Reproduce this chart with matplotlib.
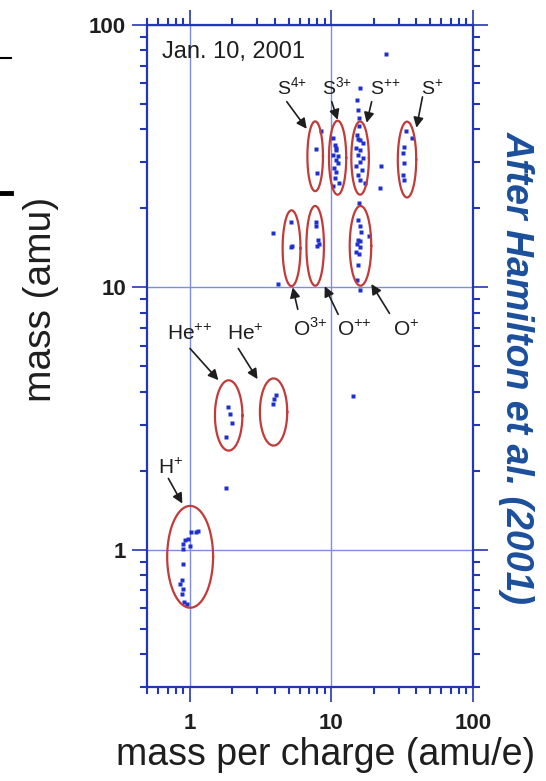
import numpy as np
import matplotlib
matplotlib.use("Agg")
import matplotlib.pyplot as plt
from matplotlib.lines import Line2D

plt.rcParams['font.family'] = ['Liberation Sans', 'DejaVu Sans']
plt.rcParams['mathtext.fontset'] = 'custom'
plt.rcParams['mathtext.rm'] = 'Liberation Sans'

# measured ions, mass per charge (amu/e) vs mass (amu)
h_x = [1.15, 1.11, 1.02, 0.98, 0.93, 0.905, 1.01, 0.895, 0.905, 0.88, 0.857, 0.905, 0.89, 0.92, 0.956]
h_y = [1.18, 1.17, 1.17, 1.10, 1.085, 1.054, 1.038, 1.01, 0.885, 0.764, 0.743, 0.711, 0.68, 0.633, 0.623]
he_x = [1.86, 1.93, 2.01, 1.81, 4.07, 3.96, 3.89]
he_y = [3.49, 3.29, 3.04, 2.68, 3.88, 3.75, 3.59]
o_x = [5.24, 5.30, 5.19, 7.78, 7.87, 8.07, 8.20, 7.94,
       15.7, 15.4, 15.9, 16.3, 18.5, 15.4, 15.2, 15.9, 15.0, 15.4, 15.3, 15.9, 16.1, 15.6]
o_y = [17.7, 14.4, 14.2, 17.8, 17.1, 15.2, 14.6, 14.4,
       20.9, 18.1, 17.1, 16.2, 15.7, 15.2, 14.6, 14.2, 13.7, 12.2, 10.7, 9.8, 15.0, 13.4]
s_x = [7.87, 8.00, 8.43,
       10.25, 10.6, 10.9, 10.25, 10.75, 11.1, 10.4, 10.9, 10.6, 11.3, 10.25, 10.75, 11.1,
       15.9, 15.1, 15.4, 15.6, 15.6, 15.1, 15.4, 15.9, 16.7, 14.9, 16.1, 15.4, 16.9, 15.9,
       14.9, 16.4, 15.4, 16.1, 17.2,
       34.0, 36.9, 32.9, 31.9, 32.9, 31.9, 32.9]
s_y = [33.8, 27.4, 39.3,
       37.2, 35.0, 33.5, 32.0, 30.7, 29.9, 28.6, 27.6, 26.2, 25.1, 24.4, 34.1, 31.8,
       57.6, 51.9, 47.5, 44.3, 41.3, 38.2, 36.8, 36.5, 35.6, 34.1, 33.5, 32.0, 31.2, 30.1,
       29.1, 28.1, 26.9, 25.7, 24.9,
       39.5, 37.2, 34.4, 32.6, 29.9, 26.7, 25.7]
other_x = [1.81, 14.2, 3.89, 4.22, 24.5, 22.3, 22.0]
other_y = [1.72, 3.86, 16.1, 10.3, 77.6, 29.1, 24.0]

# ion groups: label, ellipse centre, half sizes (decades), label spot, arrow tail, arrow head
ions = ['H', 'He', 'He', 'O', 'O', 'O', 'S', 'S', 'S', 'S']
charges = ['{+}', '{+}{+}', '{+}', '{3}{+}', '{+}{+}', '{+}', '{4}{+}', '{3}{+}', '{+}{+}', '{+}']
ell_cx = [1.01, 1.89, 3.92, 5.25, 7.71, 16.1, 7.71, 11.1, 16.0, 34.3]
ell_cy = [0.94, 3.25, 3.35, 14.1, 14.4, 14.4, 31.6, 31.2, 31.1, 30.7]
ell_ax = [0.162, 0.097, 0.0965, 0.063, 0.062, 0.076, 0.055, 0.061, 0.062, 0.065]
ell_ay = [0.194, 0.134, 0.128, 0.1445, 0.152, 0.152, 0.133, 0.141, 0.1395, 0.1445]
lab_x = [0.603, 0.691, 1.85, 5.38, 11.06, 27.2, 4.13, 8.57, 18.7, 43.4]
lab_y = [1.945, 6.29, 6.29, 6.51, 6.51, 6.51, 54.2, 54.2, 54.2, 54.2]
tail_x = [0.709, 1.008, 2.21, 5.81, 11.2, 25.8, 4.86, 10.1, 19.3, 44.1]
tail_y = [1.87, 5.85, 5.85, 8.25, 7.89, 7.96, 51.0, 51.0, 51.0, 53.2]
head_x = [0.89, 1.60, 3.02, 5.35, 9.0, 19.2, 6.72, 11.1, 17.8, 40.0]
head_y = [1.50, 4.43, 4.47, 10.0, 10.1, 10.3, 40.2, 43.5, 42.4, 40.6]

frame = '#2436b8'
dots = '#1f2fd0'
red = '#c23a3a'
ink = '#1e1e1e'

fig = plt.figure(figsize=(5.46, 7.81), dpi=100)
ax = fig.add_axes([0.269, 0.1204, 0.597, 0.8476])
ax.set_xscale('log')
ax.set_yscale('log')
ax.set_xlim(0.5, 100)
ax.set_ylim(0.3, 100)

ax.grid(which='major', color='#7d8ae8', lw=1.0)
for sp in ax.spines.values():
    sp.set_color(frame)
    sp.set_linewidth(1.6)
ax.tick_params(which='major', direction='out', length=11, width=1.2, color=frame,
               top=True, right=True, labelsize=16, pad=4, labelcolor=ink)
ax.tick_params(which='minor', direction='out', length=5, width=1.5, color=frame,
               top=True, right=True)
ax.set_xticks([1, 10, 100], ['1', '10', '100'], fontweight='bold')
ax.set_yticks([1, 10, 100], ['1', '10', '100'], fontweight='bold')
ax.tick_params(axis='x', pad=8)
ax.set_axisbelow(True)

for xs, ys in [(h_x, h_y), (he_x, he_y), (o_x, o_y), (s_x, s_y), (other_x, other_y)]:
    ax.plot(xs, ys, 's', color=dots, ms=2.4, mec='none')

t = np.linspace(0, 2 * np.pi, 200)
for i in range(len(ions)):
    ex = 10 ** (np.log10(ell_cx[i]) + ell_ax[i] * np.cos(t))
    ey = 10 ** (np.log10(ell_cy[i]) + ell_ay[i] * np.sin(t))
    ax.plot(ex, ey, color=red, lw=1.6)
    size = 14 if ions[i] == 'S' else 15
    ax.text(lab_x[i], lab_y[i], r'$\mathrm{%s}^{%s}$' % (ions[i], charges[i]),
            fontsize=size, ha='left', va='baseline', color=ink)
    ax.annotate('', xy=(head_x[i], head_y[i]), xytext=(tail_x[i], tail_y[i]),
                arrowprops=dict(arrowstyle='-|>', color=ink, lw=1.2,
                                mutation_scale=15, shrinkA=0, shrinkB=0))

ax.text(0.046, 0.959, 'Jan. 10, 2001', transform=ax.transAxes, fontsize=17,
        ha='left', va='center', color=ink)

fig.text(0.597, 0.033, 'mass per charge (amu/e)', fontsize=27, ha='center', va='center',
         color=ink)
fig.text(0.075, 0.616, 'mass (amu)', fontsize=28, rotation=90, ha='center', va='center',
         color=ink)
fig.text(0.947, 0.529, 'After Hamilton et al. (2001)', fontsize=27, rotation=-90,
         ha='center', va='center', color='#1c4f9c', fontweight='bold', style='italic')

# slide edge marks
fig.add_artist(Line2D([0, 0.02], [1 - 58 / 781] * 2, color='k', lw=1.5))
fig.add_artist(Line2D([0, 0.02], [1 - 193 / 781] * 2, color='k', lw=3.5))

fig.savefig('out.png', dpi=100)
